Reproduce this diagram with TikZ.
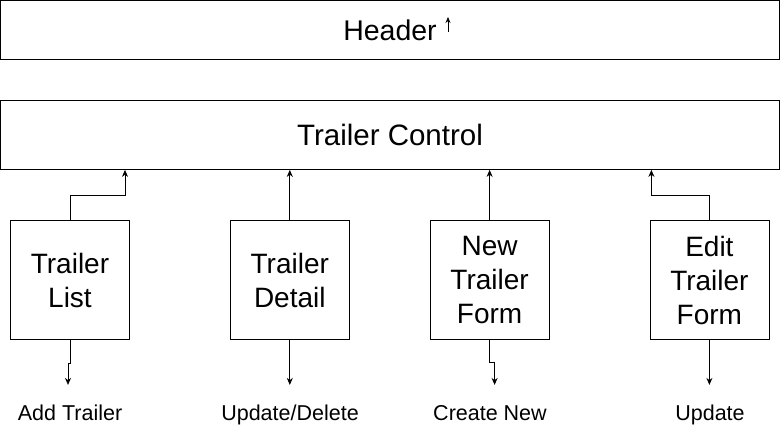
\documentclass[tikz,border=0pt]{standalone}
\usepackage{fontspec}
\setmainfont{Liberation Sans}
\usetikzlibrary{arrows.meta,positioning}

\begin{document}
\begin{tikzpicture}[x=1pt, y=-1pt, >={Stealth[length=7pt,width=6pt]}, line width=0.8pt]
    % styles: wide bars on top, square component boxes below
    \tikzset{
        bar/.style={draw, rectangle, minimum width=779pt, inner sep=0pt},
        comp/.style={draw, rectangle, minimum width=119pt, minimum height=119pt, align=center, inner sep=0pt, font=\fontsize{28}{34}\selectfont},
        act/.style={anchor=base, font=\fontsize{21.5}{26}\selectfont}
    }
    \useasboundingbox (0,0) rectangle (781,436);
    % top bars
    \node[bar, minimum height=59pt, font=\fontsize{28.5}{34}\selectfont] (hdr) at (390,30) {Header};
    \node[bar, minimum height=69pt, font=\fontsize{29.5}{34}\selectfont] (ctrl) at (390,135) {Trailer Control};
    % small arrow beside the header text
    \coordinate (hb) at (448,32);
    \coordinate (ht) at (448,17);
    \draw[->, >={Stealth[length=6pt,width=5pt]}, line width=0.7pt] (hb) -- (ht);
    % components
    \node[comp] (list) at (70,280) {Trailer\\List};
    \node[comp, right=100pt of list] (detail) {Trailer\\Detail};
    \node[comp, right=80pt of detail] (newf) {New\\Trailer\\Form};
    \node[comp, right=100pt of newf] (edit) {Edit\\Trailer\\Form};
    % action labels
    \node[act] (addt) at (70,420) {Add Trailer};
    \node[act] (upd) at (290,420) {Update/Delete};
    \node[act] (crea) at (490,420) {Create New};
    \node[act] (updt) at (710,420) {Update};
    % components up to the control bar
    \draw[->] (list.north) -- ++(0,-25) -| ([xshift=55pt]list.north |- ctrl.south);
    \draw[->] (detail.north) -- (detail.north |- ctrl.south);
    \draw[->] (newf.north) -- (newf.north |- ctrl.south);
    \draw[->] (edit.north) -- ++(0,-25) -| ([xshift=-58pt]edit.north |- ctrl.south);
    % components down to their actions
    \draw[->] (list.south) -- ++(0,23) -- ++(-2,0) -- ++(0,22);
    \draw[->] (detail.south) -- ++(0,45);
    \draw[->] (newf.south) -- ++(0,22) -- ++(5,0) -- ++(0,23);
    \draw[->] (edit.south) -- ++(0,45);
\end{tikzpicture}
\end{document}
